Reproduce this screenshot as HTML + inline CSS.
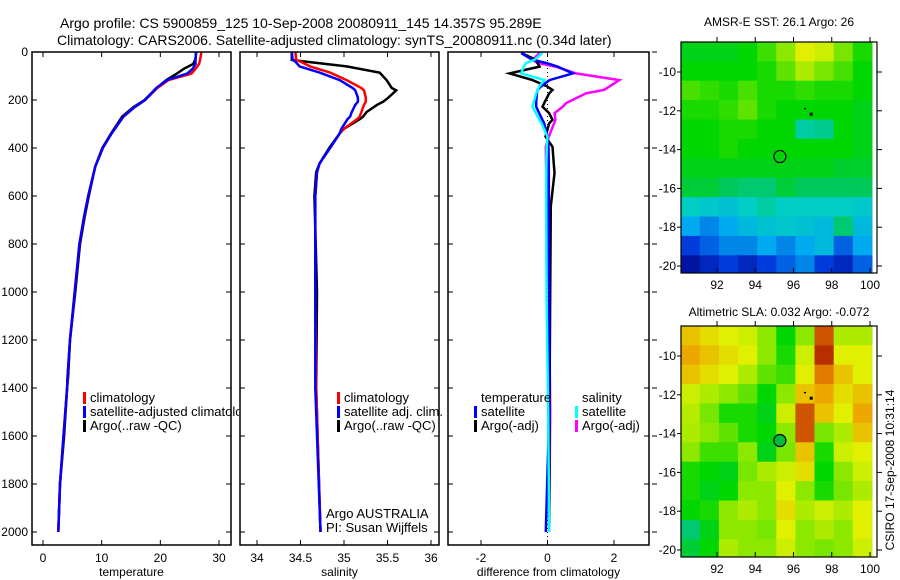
<!DOCTYPE html>
<html><head><meta charset="utf-8">
<style>
html,body{margin:0;padding:0;background:#fff;}
svg{display:block;font-family:"Liberation Sans",sans-serif;}
text{fill:#000;}
</style></head>
<body>
<svg id="fig" width="900" height="580" viewBox="0 0 900 580" xmlns="http://www.w3.org/2000/svg">
<text x="60" y="28" font-size="14">Argo profile: CS 5900859_125 10-Sep-2008 20080911_145 14.357S 95.289E</text>
<text x="57" y="45" font-size="14">Climatology: CARS2006. Satellite-adjusted climatology: synTS_20080911.nc (0.34d later)</text>
<text x="779" y="26" font-size="12" text-anchor="middle">AMSR-E SST: 26.1 Argo: 26</text>
<text x="779" y="316" font-size="12" text-anchor="middle">Altimetric SLA: 0.032 Argo: -0.072</text>
<text transform="translate(894,470) rotate(-90)" font-size="12" text-anchor="middle">CSIRO 17-Sep-2008 10:31:14</text>
<g id="layer"></g>
</svg>
<script>
// ---------- profile data ----------
const tDepth = [0,30,50,70,90,117,150,200,230,269,339,400,478,600,686,800,1000,1200,1350,1400,1600,1800,2000];
const tClim  = [27.0,26.8,26.6,26.0,25.3,21.4,19.5,17.4,15.6,13.7,11.7,10.2,8.9,7.7,7.0,6.2,5.4,4.6,4.2,4.1,3.5,2.9,2.6];
const tSat   = [26.1,26.0,26.0,25.5,24.6,21.1,19.3,17.4,15.6,13.7,11.7,10.2,8.9,7.7,7.0,6.2,5.4,4.6,4.2,4.1,3.5,2.9,2.6];
const tArgo  = [26.1,26.0,25.6,24.0,22.8,21.0,19.4,17.3,15.4,13.5,11.6,10.1,8.9,7.8,7.1,6.3,5.5,4.6,4.3,4.1,3.6,2.9,2.6];

const sDepth = [0,33,40,60,86,117,150,160,190,207,220,250,269,280,320,339,400,464,500,600,1000,1400,2000];
const sClim  = [34.44,34.45,34.50,34.61,34.84,35.03,35.20,35.23,35.25,35.25,35.23,35.20,35.18,35.15,35.00,34.95,34.84,34.72,34.69,34.67,34.67,34.68,34.73];
const sSat   = [34.40,34.41,34.44,34.49,34.72,34.95,35.10,35.13,35.16,35.16,35.13,35.09,35.07,35.04,34.97,34.95,34.84,34.72,34.69,34.67,34.67,34.67,34.73];
const sArgo  = [34.40,34.40,34.56,35.03,35.41,35.49,35.55,35.60,35.51,35.45,35.38,35.26,35.22,35.18,35.00,34.95,34.83,34.72,34.68,34.66,34.69,34.68,34.73];

const dDepth = [4,33,46,61,89,117,144,158,172,213,228,255,283,297,353,395,505,642,1000,1500,2000];
const dTSat  = [-0.79,-0.45,-0.04,0.30,0.76,0.06,-0.20,-0.30,-0.32,-0.34,-0.34,-0.25,-0.15,-0.10,0.00,0.03,0.04,0.04,0.05,0.05,-0.05];
const dSSat  = [-0.15,-0.40,-0.64,-0.72,-0.79,-0.09,-0.25,-0.30,-0.34,-0.42,-0.45,-0.35,-0.24,-0.18,0.00,-0.02,-0.04,-0.04,-0.03,0.02,0.05];
const dTArgo = [-0.79,-0.34,-0.30,-0.24,-1.14,-0.45,0.00,0.15,0.05,-0.10,-0.15,0.05,0.15,0.05,-0.06,0.15,0.21,0.10,0.08,0.06,0.05];
const dSArgo = [-0.24,-0.45,-0.30,0.24,0.86,2.16,1.86,1.70,1.16,0.56,0.46,0.21,0.24,0.20,0.04,-0.05,-0.04,0.00,0.05,0.08,0.05];

const depthTicks = [0,200,400,600,800,1000,1200,1400,1600,1800,2000];
const tTicks = [0,10,20,30];
const sTicks = [34,34.5,35,35.5,36];
const sTickLabels = ["34","34.5","35","35.5","36"];
const dTicks = [-2,0,2];

// ---------- map data (colormap index 0..1, rows north->south, 1 deg cells) ----------
const mapLon0 = 90.1, mapLat0 = -8.45, cellDeg = 1.0;
const sstGrid = [
[.58,.58,.58,.60,.65,.72,.80,.78,.70,.62],
[.60,.60,.60,.60,.62,.68,.75,.70,.66,.60],
[.66,.64,.62,.66,.62,.62,.64,.62,.62,.60],
[.62,.62,.64,.68,.62,.60,.60,.60,.60,.58],
[.60,.60,.62,.62,.60,.60,.45,.47,.60,.58],
[.60,.60,.62,.60,.60,.60,.60,.60,.60,.58],
[.58,.58,.58,.58,.58,.58,.58,.58,.56,.56],
[.55,.55,.52,.50,.50,.55,.52,.52,.52,.52],
[.42,.40,.38,.42,.45,.42,.42,.42,.42,.40],
[.30,.25,.30,.35,.38,.40,.38,.35,.50,.35],
[.15,.20,.25,.25,.30,.25,.30,.35,.20,.30],
[.05,.10,.15,.10,.15,.20,.25,.15,.10,.20]];
const slaGrid = [
[.85,.82,.80,.78,.72,.60,.72,.95,.75,.75],
[.88,.85,.82,.80,.72,.62,.78,.98,.80,.80],
[.85,.82,.80,.75,.68,.65,.80,.92,.85,.80],
[.78,.75,.72,.68,.60,.72,.85,.88,.82,.85],
[.76,.70,.62,.62,.58,.78,.95,.85,.80,.88],
[.75,.72,.68,.62,.60,.72,.95,.70,.75,.85],
[.72,.65,.65,.72,.58,.70,.85,.62,.78,.80],
[.62,.60,.58,.70,.75,.78,.82,.60,.72,.78],
[.62,.58,.60,.72,.72,.80,.72,.62,.70,.75],
[.60,.62,.72,.75,.72,.82,.75,.78,.75,.80],
[.50,.58,.72,.72,.70,.80,.72,.75,.72,.80],
[.55,.60,.75,.72,.72,.78,.72,.70,.72,.78]];
const argoLon = 95.289, argoLat = -14.357;
const lonTicks = [92,94,96,98,100];
const latTicks = [-10,-12,-14,-16,-18,-20];

// ---------- drawing ----------
const NS='http://www.w3.org/2000/svg';
const layer=document.getElementById('layer');
function mk(tag,attrs,parent){const e=document.createElementNS(NS,tag);for(const k in attrs)e.setAttribute(k,attrs[k]);(parent||layer).appendChild(e);return e;}
function lin(d0,d1,r0,r1){return v=>r0+(v-d0)*(r1-r0)/(d1-d0);}

const Y = lin(0,2000,52,532);
const panels=[
 {name:'temperature-panel',x0:32,x1:231,X:lin(0,30,43,219),ticks:tTicks,labels:tTicks.map(String),xlabel:'temperature'},
 {name:'salinity-panel',x0:240,x1:439,X:lin(34,36,257,431),ticks:sTicks,labels:sTickLabels,xlabel:'salinity'},
 {name:'difference-panel',x0:448,x1:649,X:lin(-2,2,481,614),ticks:dTicks,labels:dTicks.map(String),xlabel:'difference from climatology'}];
const pTop=52,pBot=545;

function line(g,X,xs,ds,color,w,name){
  const pts=xs.map((v,i)=>X(v).toFixed(1)+','+Y(ds[i]).toFixed(1)).join(' ');
  const p=mk('polyline',{points:pts,fill:'none',stroke:color,'stroke-width':w,'stroke-linejoin':'miter'},g);
  
  
}

panels.forEach((P,pi)=>{
  const g=mk('g',{});
  
  
  const cid='clip'+pi;
  const cp=mk('clipPath',{id:cid},g);mk('rect',{x:P.x0,y:pTop,width:P.x1-P.x0,height:pBot-pTop},cp);
  const lid='lclip'+pi;
  const lcp=mk('clipPath',{id:lid},g);mk('rect',{x:P.x0,y:pTop,width:P.x1-P.x0+8,height:pBot-pTop},lcp);
  const inner=mk('g',{'clip-path':'url(#'+cid+')'},g);
  if(pi===0){
    line(inner,P.X,tArgo,tDepth,'#000',2.5,'argo-temperature-line');
    line(inner,P.X,tClim,tDepth,'#f00',2.5,'climatology-temperature-line');
    line(inner,P.X,tSat,tDepth,'#00f',2.5,'satellite-temperature-line');
  } else if(pi===1){
    line(inner,P.X,sArgo,sDepth,'#000',2.5,'argo-salinity-line');
    line(inner,P.X,sClim,sDepth,'#f00',2.5,'climatology-salinity-line');
    line(inner,P.X,sSat,sDepth,'#00f',2.5,'satellite-salinity-line');
  } else {
    const z=mk('line',{x1:P.X(0),x2:P.X(0),y1:pTop,y2:pBot,stroke:'#000','stroke-width':1,'stroke-dasharray':'1,3'},inner);
    
    
    line(inner,P.X,dSArgo,dDepth,'#f0f',2.5,'argo-salinity-diff-line');
    line(inner,P.X,dTArgo,dDepth,'#000',2.5,'argo-temperature-diff-line');
    line(inner,P.X,dTSat,dDepth,'#00f',2.5,'satellite-temperature-diff-line');
    line(inner,P.X,dSSat,dDepth,'#0ff',2.5,'satellite-salinity-diff-line');
  }
  P.ticks.forEach((t,i)=>{
    const x=P.X(t);
    mk('line',{x1:x,x2:x,y1:pBot,y2:pBot-5,stroke:'#000'},g);
    mk('line',{x1:x,x2:x,y1:pTop,y2:pTop+5,stroke:'#000'},g);
    const tx=mk('text',{x:x,y:pBot+17,'font-size':12,'text-anchor':'middle'},g);
    tx.textContent=P.labels[i];
    
    
  });
  depthTicks.forEach(d=>{
    const y=Y(d);
    mk('line',{x1:P.x0,x2:P.x0+5,y1:y,y2:y,stroke:'#000'},g);
    mk('line',{x1:P.x1,x2:P.x1-5,y1:y,y2:y,stroke:'#000'},g);
    if(pi===0){
      const tx=mk('text',{x:28,y:y+4,'font-size':12,'text-anchor':'end'},g);
      tx.textContent=String(d);
      
      
    }
    if(pi===2){mk('line',{x1:P.x1+3,x2:P.x1+8,y1:y,y2:y,stroke:'#000'},g);}
  });
  const fr=mk('rect',{x:P.x0,y:pTop,width:P.x1-P.x0,height:pBot-pTop,fill:'none',stroke:'#000','stroke-width':1.5},g);
  
  
  const xl=mk('text',{x:(P.x0+P.x1)/2,y:576,'font-size':12,'text-anchor':'middle'},g);
  xl.textContent=P.xlabel;
  
  

  function leg(x,y,color,label){
    const lg=mk('g',{'clip-path':'url(#'+lid+')'},g);
    
    
    if(color) mk('rect',{x:x-7,y:y-10,width:3,height:12,fill:color},lg);
    const t=mk('text',{x:x,y:y,'font-size':13},lg);t.textContent=label;
  }
  if(pi===0){leg(90,402,'#f00','climatology');leg(90,416,'#00f','satellite-adjusted climatology');leg(90,430,'#000','Argo(..raw -QC)');}
  if(pi===1){leg(344,402,'#f00','climatology');leg(344,416,'#00f','satellite adj. clim.');leg(344,430,'#000','Argo(..raw -QC)');
    const a=mk('text',{x:326,y:518,'font-size':13},g);a.textContent='Argo AUSTRALIA';
    
    const b=mk('text',{x:326,y:532,'font-size':13},g);b.textContent='PI: Susan Wijffels';
    }
  if(pi===2){leg(481,402,null,'temperature');leg(481,416,'#00f','satellite');leg(481,430,'#000','Argo(-adj)');
    leg(582,402,null,'salinity');leg(582,416,'#0ff','satellite');leg(582,430,'#f0f','Argo(-adj)');}
});

const cstops=[[0,[0,0,130]],[0.15,[0,60,220]],[0.3,[0,170,240]],[0.42,[0,205,195]],[0.52,[0,200,90]],[0.6,[0,215,0]],[0.7,[120,230,0]],[0.8,[225,240,0]],[0.9,[240,150,0]],[1,[170,20,0]]];
function cmap(v){for(let i=1;i<cstops.length;i++){if(v<=cstops[i][0]){const a=cstops[i-1],b=cstops[i];const f=(v-a[0])/(b[0]-a[0]);const c=a[1].map((x,k)=>Math.round(x+(b[1][k]-x)*f));return 'rgb('+c.join(',')+')';}}return 'rgb(170,20,0)';}

function drawMap(name,grid,mapTop,filledCircle){
  const x0=681,x1=877,yb=mapTop+231;
  const LX=lin(92,100,717,870), LY=lin(-10,-20,mapTop+30,mapTop+224);
  const g=mk('g',{});
  
  
  const cid='c'+name;
  const cp=mk('clipPath',{id:cid},g);mk('rect',{x:x0,y:mapTop,width:x1-x0,height:yb-mapTop},cp);
  const inner=mk('g',{'clip-path':'url(#'+cid+')'},g);
  grid.forEach((row,r)=>row.forEach((v,c)=>{
    const lx=mapLon0+c*cellDeg, ly=mapLat0-r*cellDeg;
    const xa=LX(lx), xb=LX(lx+cellDeg), ya=LY(ly), yb2=LY(ly-cellDeg);
    const cell=mk('rect',{x:xa.toFixed(1),y:ya.toFixed(1),width:(xb-xa+0.6).toFixed(1),height:(yb2-ya+0.6).toFixed(1),fill:cmap(v)},inner);
    
    
  }));
  const cc=mk('circle',{cx:LX(argoLon),cy:LY(argoLat),r:6,fill:filledCircle?'rgb(0,190,60)':'none',stroke:'#000','stroke-width':1.2},inner);
  
  
  mk('rect',{x:LX(96.55),y:LY(-11.85),width:2,height:1.5,fill:'#000'},inner);
  mk('rect',{x:LX(96.9)-1,y:LY(-12.15)-1,width:3,height:3,fill:'#000'},inner);
  mk('rect',{x:x0,y:mapTop,width:x1-x0,height:yb-mapTop,fill:'none',stroke:'#000','stroke-width':1.2},g);
  lonTicks.forEach(t=>{const x=LX(t);
    mk('line',{x1:x,x2:x,y1:yb,y2:yb-5,stroke:'#000'},g);
    mk('line',{x1:x,x2:x,y1:mapTop,y2:mapTop-5,stroke:'#000'},g);
    const tx=mk('text',{x:x,y:yb+16,'font-size':12,'text-anchor':'middle'},g);tx.textContent=String(t);
    });
  latTicks.forEach(t=>{const y=LY(t);
    mk('line',{x1:x0,x2:x0-4,y1:y,y2:y,stroke:'#000'},g);
    mk('line',{x1:x1,x2:x1+5,y1:y,y2:y,stroke:'#000'},g);
    const tx=mk('text',{x:676,y:y+4,'font-size':12,'text-anchor':'end'},g);tx.textContent=String(t);
    });
}
drawMap('sst-map',sstGrid,42,false);
drawMap('sla-map',slaGrid,326,true);
</script>
</body></html>
